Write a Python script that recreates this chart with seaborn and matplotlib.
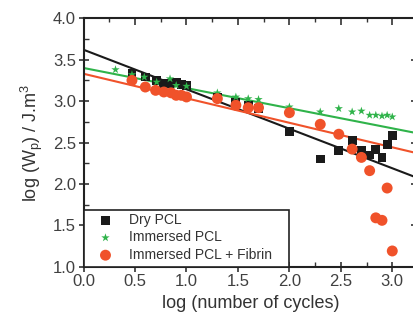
import numpy as np
import pandas as pd
import matplotlib
matplotlib.use("Agg")
import matplotlib.pyplot as plt
from matplotlib.patches import Rectangle
import seaborn as sns

# ---- data ----
dry_x = [0.47, 0.60, 0.71, 0.78, 0.84, 0.90, 0.95, 1.00, 1.30, 1.48, 1.60, 1.70,
         2.00, 2.30, 2.48, 2.61, 2.70, 2.78, 2.84, 2.90, 2.95, 3.00]
dry_y = [3.34, 3.29, 3.25, 3.21, 3.21, 3.22, 3.20, 3.19, 3.05, 2.99, 2.95, 2.91,
         2.63, 2.30, 2.40, 2.52, 2.40, 2.35, 2.42, 2.32, 2.48, 2.58]

imm_x = [0.31, 0.47, 0.59, 0.71, 0.84, 0.90, 1.00, 1.30, 1.48, 1.60, 1.70,
         2.00, 2.30, 2.48, 2.61, 2.70, 2.78, 2.84, 2.90, 2.95, 3.00]
imm_y = [3.38, 3.32, 3.29, 3.23, 3.27, 3.19, 3.18, 3.10, 3.05, 3.03, 3.02,
         2.93, 2.87, 2.91, 2.87, 2.88, 2.83, 2.83, 2.82, 2.83, 2.81]

fib_x = [0.47, 0.60, 0.70, 0.78, 0.85, 0.90, 0.95, 1.00, 1.30, 1.48, 1.60, 1.70,
         2.00, 2.30, 2.48, 2.61, 2.70, 2.78, 2.84, 2.90, 2.95, 3.00]
fib_y = [3.25, 3.17, 3.13, 3.11, 3.10, 3.07, 3.07, 3.05, 3.03, 2.95, 2.92, 2.92,
         2.86, 2.72, 2.60, 2.42, 2.32, 2.16, 1.59, 1.56, 1.95, 1.19]

series_labels = ["Dry PCL", "Immersed PCL", "Immersed PCL + Fibrin"]
# linear fits (intercept, slope)
fit_intercepts = [3.62, 3.40, 3.33]
fit_slopes = [-0.477, -0.243, -0.296]

x_ticks = [0.0, 0.5, 1.0, 1.5, 2.0, 2.5, 3.0]
y_ticks = [1.0, 1.5, 2.0, 2.5, 3.0, 3.5, 4.0]

# ---- styling ----
sns.set_theme(style="white")
plt.rcParams["font.family"] = ["Liberation Sans", "DejaVu Sans"]
plt.rcParams["mathtext.fontset"] = "custom"
plt.rcParams["mathtext.rm"] = "Liberation Sans"
plt.rcParams["mathtext.it"] = "Liberation Sans:italic"

colors = ["#1a1a1a", "#2fb34a", "#f0522a"]
markers = ["s", "*", "o"]
msizes = [40, 40, 62]

fig = plt.figure(figsize=(4.14, 3.22), dpi=100)
ax = fig.add_axes([83.6 / 414, (322 - 266.7) / 322, (418 - 83.6) / 414, (266.7 - 18.3) / 322])

xmax = 3.25
xs = np.array([0.0, xmax])
for b, m, c in zip(fit_intercepts, fit_slopes, colors):
    sns.lineplot(x=xs, y=b + m * xs, color=c, lw=1.5, ax=ax, zorder=2)

datasets = [(dry_x, dry_y), (imm_x, imm_y), (fib_x, fib_y)]
for (dx, dy), lab, c, mk, s in zip(datasets, series_labels, colors, markers, msizes):
    df = pd.DataFrame({"x": dx, "y": dy})
    sns.scatterplot(data=df, x="x", y="y", color=c, marker=mk, s=s,
                    edgecolor="none", linewidth=0, label=lab, ax=ax, zorder=3)

ax.set_xlim(0, xmax)
ax.set_ylim(1.0, 4.0)
ax.set_xticks(x_ticks)
ax.set_yticks(y_ticks)
ax.set_xticklabels([f"{v:.1f}" for v in x_ticks])
ax.set_yticklabels([f"{v:.1f}" for v in y_ticks])
ax.set_xticks(np.arange(0.25, 3.25, 0.5), minor=True)
ax.set_yticks(np.arange(1.25, 4.0, 0.5), minor=True)
ax.tick_params(which="major", direction="inout", length=7, width=1.2, color="#333333",
               labelsize=12, labelcolor="#404040", bottom=True, left=True, pad=2)
ax.tick_params(which="minor", direction="in", length=3.5, width=1.0, color="#333333",
               bottom=True, left=True)
for sp in ax.spines.values():
    sp.set_linewidth(1.5)
    sp.set_color("#222222")

top = ax.secondary_xaxis("top")
top.set_xticks(x_ticks)
top.set_xticks(np.arange(0.25, 3.25, 0.5), minor=True)
top.tick_params(which="major", direction="in", length=5, width=1.2, labeltop=False, color="#333333")
top.tick_params(which="minor", direction="in", length=3, width=1.0, color="#333333")
top.set_xticklabels([])
right = ax.secondary_yaxis("right")
right.set_yticks(y_ticks)
right.tick_params(which="major", direction="in", length=5, width=1.2, labelright=False, color="#333333")
right.set_yticklabels([])

ax.set_xlabel("log (number of cycles)", fontsize=13, color="#333333", labelpad=4)
ax.set_ylabel(r"log (W$_\mathrm{p}$) / J.m$^3$", fontsize=13, color="#333333", labelpad=6)

# legend box frame (drawn separately to match reference width)
frame_w = (289 - 83.6) / (418 - 83.6)
frame_h = (266.7 - 210) / (266.7 - 18.3)
ax.add_patch(Rectangle((0, 0), frame_w, frame_h, transform=ax.transAxes,
                       facecolor="white", edgecolor="#222222", linewidth=1.2, zorder=4))

leg = ax.legend(loc="lower left", bbox_to_anchor=(0, 0), borderaxespad=0,
                fontsize=10, frameon=False, handletextpad=0.5,
                labelspacing=0.25, borderpad=0.35, handlelength=2.45)
leg.set_zorder(5)
for t in leg.get_texts():
    t.set_color("#333333")

fig.savefig("out.png", dpi=100)
